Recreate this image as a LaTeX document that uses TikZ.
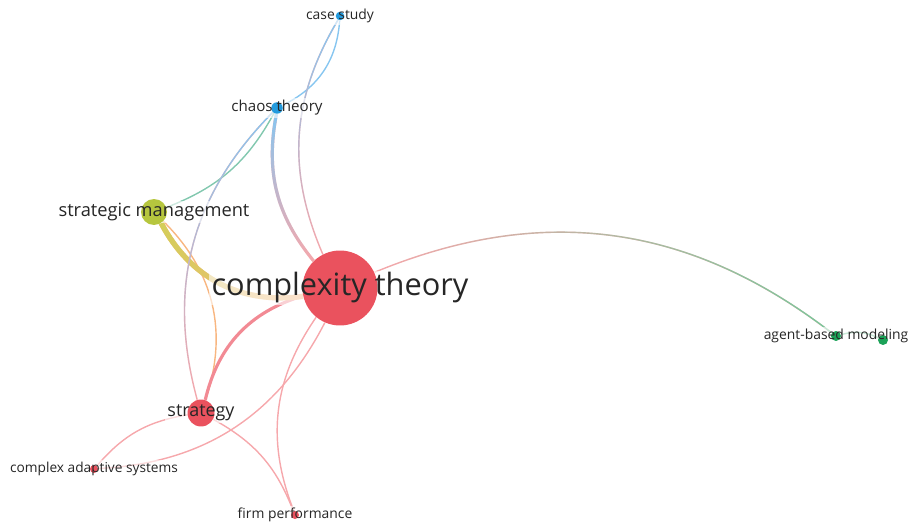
\documentclass[tikz,border=0pt]{standalone}
\usepackage{fontspec}
\setmainfont{Open Sans}
\usetikzlibrary{fadings}
\pgfdeclarelayer{edges}
\pgfsetlayers{edges,main}
\definecolor{ctred}{RGB}{234,82,94}
\definecolor{lnred}{RGB}{246,168,172}
\definecolor{lnredd}{RGB}{242,138,148}
\definecolor{ctblue}{RGB}{35,155,222}
\definecolor{lnblue}{RGB}{135,198,240}
\definecolor{ctyel}{RGB}{182,198,62}
\definecolor{lnyel}{RGB}{212,206,90}
\definecolor{lnorange}{RGB}{248,182,128}
\definecolor{ctgreen}{RGB}{28,162,88}
\definecolor{lngreen}{RGB}{120,200,155}
\definecolor{lnteal}{RGB}{130,200,175}
\begin{document}
\begin{tikzpicture}[x=0.02cm,y=-0.02cm,dot/.style={circle,inner sep=0pt},
  lbl/.style={text=black!85,inner sep=1pt},
  thinln/.style={line width=0.8pt},medln/.style={line width=1.8pt},fatln/.style={line width=3pt}]
  \useasboundingbox (0,0) rectangle (919,523);
  \foreach \N/\X/\Y/\D/\C in {ct/340/288/1.5/ctred,sm/154/212/0.52/ctyel,st/201/413/0.54/ctred,
    ch/277/108/0.23/ctblue,cs/340/16/0.17/ctblue,cas/94/469/0.16/ctred,fp/295/515/0.16/ctred,
    abm/836/336/0.2/ctgreen,abmb/883/340/0.2/ctgreen}
  {\node[dot,fill=\C,minimum size=\D cm] (\N) at (\X,\Y) {};}
  \begin{pgfonlayer}{edges}
  \foreach \A/\B/\ang/\W/\C in {cs/ch/30/thinln/lnblue,ch/sm/20/thinln/lnteal,sm/st/32/thinln/lnorange,
    cas/ct/-30/thinln/lnred,ct/fp/-28/thinln/lnred,st/cas/-20/thinln/lnred,st/fp/20/thinln/lnred,
    ct/st/-30/medln/lnredd,abm/abmb/20/thinln/lngreen}
  {\draw[\W,\C] (\A) to[bend left=\ang] (\B);}
  \draw[fatln,lnorange] (sm) to[bend right=35] (ct);
  \draw[fatln,lnyel,path fading=east] (sm) to[bend right=35] (ct);
  \draw[medln,lnred] (ch) to[bend right=25] (ct);
  \draw[medln,lnblue,path fading=south] (ch) to[bend right=25] (ct);
  \draw[thinln,lnred] (cs) to[bend right=27] (ct);
  \draw[thinln,lnblue,path fading=south] (cs) to[bend right=27] (ct);
  \draw[thinln,lnred] (ch) to[bend right=30] (st);
  \draw[thinln,lnblue,path fading=south] (ch) to[bend right=30] (st);
  \draw[thinln,lnred] (ct) to[bend left=30] (abm);
  \draw[thinln,lngreen,path fading=west] (ct) to[bend left=30] (abm);
  \end{pgfonlayer}
  \foreach \N/\T/\S in {ct/complexity theory/17.5,sm/strategic management/10.4,st/strategy/10.2,
    ch/chaos theory/8.6,cs/case study/7.9,cas/complex adaptive systems/7.8,fp/firm performance/7.9,
    abm/agent-based modeling/7.9}
  {\node[lbl,font=\fontsize{\S}{\S}\selectfont] (\N l) at (\N) {\T};
   \begin{pgfonlayer}{edges}
   \fill[white,opacity=0.6] (\N l.south west) rectangle (\N l.north east);
   \end{pgfonlayer}}
\end{tikzpicture}
\end{document}
